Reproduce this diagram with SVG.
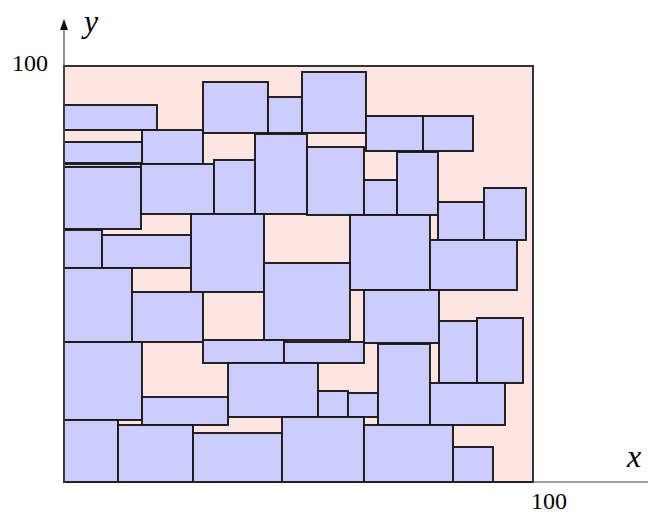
<svg xmlns="http://www.w3.org/2000/svg" width="648" height="515" viewBox="0 0 648 515">
<style>
.b{fill:#ccccff;stroke:#1a1a1a;stroke-width:1.9}
.lab{font-family:"Liberation Serif","Times New Roman",serif;fill:#000}
.ax{stroke:#444;stroke-width:1.2;fill:none}
</style>
<rect x="0" y="0" width="648" height="515" fill="#fff"/>
<g id="container"><rect x="64" y="66" width="469" height="416" fill="#ffe4e4" stroke="#333" stroke-width="2"/></g>
<g id="connectors">
<line class="ax" x1="64" y1="482" x2="648" y2="482"/>
<line class="ax" x1="64" y1="482" x2="64" y2="28"/>
<path d="M64,19 L60,30 L68,30 Z" fill="#111"/>
</g>
<g id="rA"><rect class="b" x="64" y="105" width="93" height="25"/></g>
<g id="rB"><rect class="b" x="203" y="82" width="65" height="51"/></g>
<g id="rC"><rect class="b" x="268" y="97" width="34" height="36"/></g>
<g id="rW"><rect class="b" x="302" y="72" width="64" height="61"/></g>
<g id="rX"><rect class="b" x="366" y="116" width="57" height="35"/></g>
<g id="rY"><rect class="b" x="423" y="116" width="50" height="35"/></g>
<g id="rD"><rect class="b" x="142" y="130" width="61" height="34"/></g>
<g id="rT1"><rect class="b" x="64" y="142" width="78" height="21"/></g>
<g id="rT2"><rect class="b" x="64" y="164" width="77" height="3"/></g>
<g id="rH"><rect class="b" x="64" y="167" width="77" height="62"/></g>
<g id="rF"><rect class="b" x="141" y="164" width="73" height="50"/></g>
<g id="rG"><rect class="b" x="214" y="160" width="41" height="54"/></g>
<g id="rE"><rect class="b" x="255" y="134" width="52" height="80"/></g>
<g id="rZ"><rect class="b" x="307" y="147" width="57" height="68"/></g>
<g id="rAA"><rect class="b" x="364" y="180" width="33" height="35"/></g>
<g id="rAB"><rect class="b" x="397" y="152" width="41" height="63"/></g>
<g id="rAC"><rect class="b" x="438" y="202" width="46" height="38"/></g>
<g id="rAD"><rect class="b" x="484" y="188" width="42" height="52"/></g>
<g id="rJ"><rect class="b" x="64" y="230" width="38" height="38"/></g>
<g id="rK"><rect class="b" x="102" y="235" width="89" height="33"/></g>
<g id="rI"><rect class="b" x="191" y="214" width="73" height="78"/></g>
<g id="rAE"><rect class="b" x="350" y="215" width="80" height="75"/></g>
<g id="rAF"><rect class="b" x="430" y="240" width="87" height="50"/></g>
<g id="rCenter"><rect class="b" x="264" y="263" width="86" height="77"/></g>
<g id="rL"><rect class="b" x="64" y="268" width="68" height="74"/></g>
<g id="rM"><rect class="b" x="132" y="292" width="71" height="50"/></g>
<g id="rAG"><rect class="b" x="364" y="290" width="75" height="53"/></g>
<g id="rAH"><rect class="b" x="439" y="321" width="38" height="62"/></g>
<g id="rAI"><rect class="b" x="477" y="318" width="46" height="65"/></g>
<g id="rN"><rect class="b" x="64" y="342" width="78" height="78"/></g>
<g id="rO"><rect class="b" x="203" y="340" width="81" height="23"/></g>
<g id="rP"><rect class="b" x="284" y="342" width="80" height="21"/></g>
<g id="rR"><rect class="b" x="228" y="363" width="90" height="54"/></g>
<g id="rAL"><rect class="b" x="318" y="391" width="30" height="26"/></g>
<g id="rAM"><rect class="b" x="348" y="393" width="30" height="24"/></g>
<g id="rAJ"><rect class="b" x="378" y="344" width="52" height="81"/></g>
<g id="rAK"><rect class="b" x="430" y="383" width="75" height="42"/></g>
<g id="rQ"><rect class="b" x="142" y="397" width="86" height="28"/></g>
<g id="rS"><rect class="b" x="64" y="420" width="54" height="62"/></g>
<g id="rT"><rect class="b" x="118" y="425" width="75" height="57"/></g>
<g id="rU"><rect class="b" x="193" y="433" width="89" height="49"/></g>
<g id="rV"><rect class="b" x="282" y="417" width="82" height="65"/></g>
<g id="rAN"><rect class="b" x="364" y="425" width="89" height="57"/></g>
<g id="rAO"><rect class="b" x="453" y="447" width="40" height="35"/></g>
<line x1="64" y1="482" x2="533" y2="482" stroke="#222" stroke-width="2"/>
<line x1="64" y1="66" x2="64" y2="482" stroke="#444" stroke-width="1.5"/>
<text class="lab" x="84" y="32" font-size="32" font-style="italic">y</text>
<text class="lab" x="12" y="71" font-size="24">100</text>
<text class="lab" x="627" y="467" font-size="32" font-style="italic">x</text>
<text class="lab" x="531" y="509" font-size="24">100</text>
</svg>
